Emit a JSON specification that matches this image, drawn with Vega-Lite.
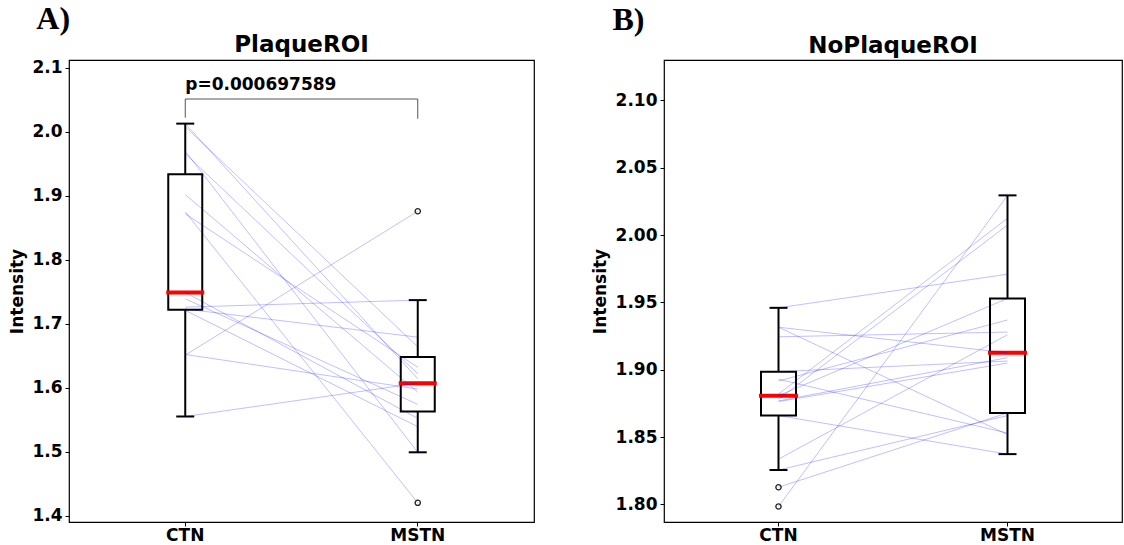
{
  "$schema": "https://vega.github.io/schema/vega-lite/v6.json",
  "background": "white",
  "padding": {"left": 8, "top": 3, "right": 0, "bottom": 0},
  "spacing": 55,
  "config": {
    "view": {"stroke": "black", "strokeWidth": 1.2},
    "font": "DejaVu Sans",
    "axis": {"labelFont": "DejaVu Sans", "labelFontWeight": "bold", "labelFontSize": 17, "labelColor": "black", "tickColor": "black", "tickSize": 4, "tickWidth": 1, "domain": false, "grid": false, "titleFont": "DejaVu Sans", "titleFontWeight": "bold", "titleFontSize": 17, "titleColor": "black", "labelPadding": 3},
    "axisX": {"labelPadding": 1},
    "title": {"font": "DejaVu Sans", "fontWeight": "bold", "fontSize": 23, "color": "black"}
  },
  "datasets": {
    "plaque": [
      {"id": 1, "group": "CTN", "value": 1.555}, {"id": 1, "group": "MSTN", "value": 1.607},
      {"id": 2, "group": "CTN", "value": 1.651}, {"id": 2, "group": "MSTN", "value": 1.876},
      {"id": 3, "group": "CTN", "value": 1.652}, {"id": 3, "group": "MSTN", "value": 1.598},
      {"id": 4, "group": "CTN", "value": 1.721}, {"id": 4, "group": "MSTN", "value": 1.539},
      {"id": 5, "group": "CTN", "value": 1.723}, {"id": 5, "group": "MSTN", "value": 1.679},
      {"id": 6, "group": "CTN", "value": 1.726}, {"id": 6, "group": "MSTN", "value": 1.737},
      {"id": 7, "group": "CTN", "value": 1.739}, {"id": 7, "group": "MSTN", "value": 1.574},
      {"id": 8, "group": "CTN", "value": 1.749}, {"id": 8, "group": "MSTN", "value": 1.552},
      {"id": 9, "group": "CTN", "value": 1.872}, {"id": 9, "group": "MSTN", "value": 1.632},
      {"id": 10, "group": "CTN", "value": 1.875}, {"id": 10, "group": "MSTN", "value": 1.420},
      {"id": 11, "group": "CTN", "value": 1.902}, {"id": 11, "group": "MSTN", "value": 1.593},
      {"id": 12, "group": "CTN", "value": 1.966}, {"id": 12, "group": "MSTN", "value": 1.622},
      {"id": 13, "group": "CTN", "value": 1.970}, {"id": 13, "group": "MSTN", "value": 1.499},
      {"id": 14, "group": "CTN", "value": 2.008}, {"id": 14, "group": "MSTN", "value": 1.664},
      {"id": 15, "group": "CTN", "value": 2.013}, {"id": 15, "group": "MSTN", "value": 1.614}
    ],
    "noplaque": [
      {"id": 1, "group": "CTN", "value": 1.946}, {"id": 1, "group": "MSTN", "value": 1.971},
      {"id": 2, "group": "CTN", "value": 1.9316}, {"id": 2, "group": "MSTN", "value": 1.9126},
      {"id": 3, "group": "CTN", "value": 1.9316}, {"id": 3, "group": "MSTN", "value": 1.852},
      {"id": 4, "group": "CTN", "value": 1.9245}, {"id": 4, "group": "MSTN", "value": 1.928},
      {"id": 5, "group": "CTN", "value": 1.893}, {"id": 5, "group": "MSTN", "value": 1.853},
      {"id": 6, "group": "CTN", "value": 1.8917}, {"id": 6, "group": "MSTN", "value": 1.937},
      {"id": 7, "group": "CTN", "value": 1.882}, {"id": 7, "group": "MSTN", "value": 2.0125},
      {"id": 8, "group": "CTN", "value": 1.8781}, {"id": 8, "group": "MSTN", "value": 2.0075},
      {"id": 9, "group": "CTN", "value": 1.8808}, {"id": 9, "group": "MSTN", "value": 1.953},
      {"id": 10, "group": "CTN", "value": 1.8769}, {"id": 10, "group": "MSTN", "value": 1.909},
      {"id": 11, "group": "CTN", "value": 1.8764}, {"id": 11, "group": "MSTN", "value": 1.905},
      {"id": 12, "group": "CTN", "value": 1.8986}, {"id": 12, "group": "MSTN", "value": 1.9065},
      {"id": 13, "group": "CTN", "value": 1.866}, {"id": 13, "group": "MSTN", "value": 1.8374},
      {"id": 14, "group": "CTN", "value": 1.8337}, {"id": 14, "group": "MSTN", "value": 1.926},
      {"id": 15, "group": "CTN", "value": 1.8256}, {"id": 15, "group": "MSTN", "value": 1.866},
      {"id": 16, "group": "CTN", "value": 1.8128}, {"id": 16, "group": "MSTN", "value": 1.868},
      {"id": 17, "group": "CTN", "value": 1.7985}, {"id": 17, "group": "MSTN", "value": 2.0295}
    ]
  },
  "hconcat": [
    {
      "title": {"text": "A)", "anchor": "start", "font": "Liberation Serif", "fontSize": 32, "fontWeight": "bold", "dx": 28, "offset": -3},
      "vconcat": [
        {
          "width": 465,
          "height": 462,
          "title": {"text": "PlaqueROI", "offset": 2},
          "layer": [
            {
              "data": {"name": "plaque"},
              "mark": {"type": "boxplot", "extent": 1.5, "size": 34,
                "box": {"fill": "white", "fillOpacity": 0, "stroke": "black", "strokeWidth": 2},
                "median": {"color": "#ff0000", "thickness": 4, "size": 38, "opacity": 1},
                "rule": {"color": "black", "strokeWidth": 2},
                "ticks": {"color": "black", "size": 18, "thickness": 2, "opacity": 1},
                "outliers": {"shape": "circle", "filled": false, "color": "#222222", "size": 28, "strokeWidth": 1.3, "opacity": 1}},
              "encoding": {
                "x": {"field": "group", "type": "nominal", "scale": {"paddingInner": 0, "paddingOuter": 0}, "axis": {"title": null, "labelAngle": 0}},
                "y": {"field": "value", "type": "quantitative", "scale": {"domain": [1.39, 2.1125], "nice": false, "zero": false}, "axis": {"title": "Intensity", "titlePadding": 5, "values": [1.4, 1.5, 1.6, 1.7, 1.8, 1.9, 2.0, 2.1], "format": ".1f"}}
              }
            },
            {
              "data": {"name": "plaque"},
              "mark": {"type": "line", "color": "#0000ff", "opacity": 0.25, "strokeWidth": 1},
              "encoding": {
                "x": {"field": "group", "type": "nominal"},
                "y": {"field": "value", "type": "quantitative"},
                "detail": {"field": "id", "type": "nominal"}
              }
            },
            {
              "data": {"values": [
                {"group": "CTN", "v": 2.0223, "o": 1},
                {"group": "CTN", "v": 2.0515, "o": 2},
                {"group": "MSTN", "v": 2.0515, "o": 3},
                {"group": "MSTN", "v": 2.0207, "o": 4}
              ]},
              "mark": {"type": "line", "color": "#555555", "strokeWidth": 1},
              "encoding": {
                "x": {"field": "group", "type": "nominal"},
                "y": {"field": "v", "type": "quantitative"},
                "order": {"field": "o", "type": "quantitative"}
              }
            },
            {
              "data": {"values": [{"group": "CTN", "v": 2.0735, "label": "p=0.000697589"}]},
              "mark": {"type": "text", "align": "left", "baseline": "middle", "font": "DejaVu Sans", "fontWeight": "bold", "fontSize": 17, "color": "black"},
              "encoding": {
                "x": {"field": "group", "type": "nominal"},
                "y": {"field": "v", "type": "quantitative"},
                "text": {"field": "label"}
              }
            }
          ]
        }
      ]
    },
    {
      "title": {"text": "B)", "anchor": "start", "font": "Liberation Serif", "fontSize": 32, "fontWeight": "bold", "dx": 22, "offset": -3},
      "vconcat": [
        {
          "width": 458,
          "height": 462,
          "title": {"text": "NoPlaqueROI", "offset": 2},
          "layer": [
            {
              "data": {"name": "noplaque"},
              "mark": {"type": "boxplot", "extent": 1.5, "size": 35,
                "box": {"fill": "white", "fillOpacity": 0, "stroke": "black", "strokeWidth": 2},
                "median": {"color": "#ff0000", "thickness": 4, "size": 39, "opacity": 1},
                "rule": {"color": "black", "strokeWidth": 2},
                "ticks": {"color": "black", "size": 18, "thickness": 2, "opacity": 1},
                "outliers": {"shape": "circle", "filled": false, "color": "#222222", "size": 28, "strokeWidth": 1.3, "opacity": 1}},
              "encoding": {
                "x": {"field": "group", "type": "nominal", "scale": {"paddingInner": 0, "paddingOuter": 0}, "axis": {"title": null, "labelAngle": 0}},
                "y": {"field": "value", "type": "quantitative", "scale": {"domain": [1.787, 2.13], "nice": false, "zero": false}, "axis": {"title": "Intensity", "titlePadding": 6, "values": [1.8, 1.85, 1.9, 1.95, 2.0, 2.05, 2.1], "format": ".2f"}}
              }
            },
            {
              "data": {"name": "noplaque"},
              "mark": {"type": "line", "color": "#0000ff", "opacity": 0.25, "strokeWidth": 1},
              "encoding": {
                "x": {"field": "group", "type": "nominal"},
                "y": {"field": "value", "type": "quantitative"},
                "detail": {"field": "id", "type": "nominal"}
              }
            }
          ]
        }
      ]
    }
  ]
}
